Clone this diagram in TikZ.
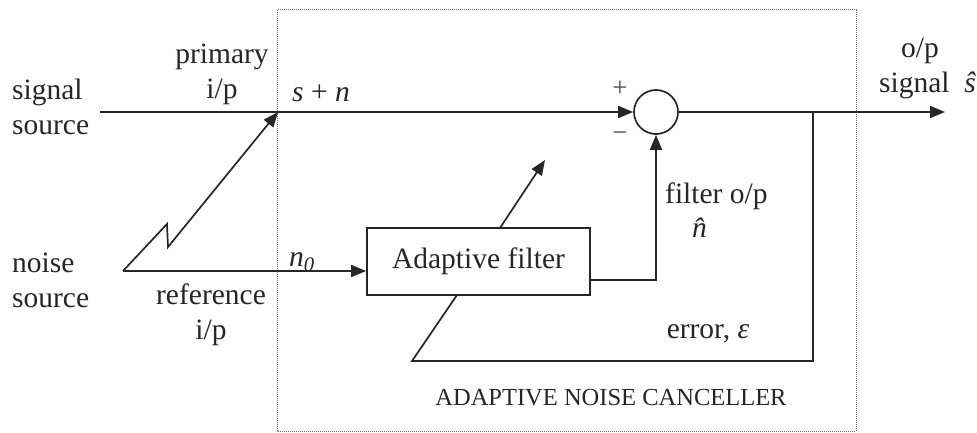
\documentclass[tikz,border=0pt]{standalone}
\usepackage{fontspec}
\setmainfont{Liberation Serif}
\usetikzlibrary{arrows.meta}
\begin{document}
\begin{tikzpicture}[x=1pt,y=-1pt,
  txt/.style={text=black!85, font=\fontsize{29.5}{35}\selectfont, inner sep=0pt},
  small/.style={text=black!85, font=\fontsize{24.5}{30}\selectfont, inner sep=0pt},
  sign/.style={text=black!70, font=\fontsize{27}{30}\selectfont, inner sep=0pt},
  ln/.style={draw=black!85, line width=1.7pt},
  arr/.style={ln, -{Triangle[length=15pt,width=12pt]}},
]
\useasboundingbox (0,0) rectangle (977,433);
% dotted enclosure
\draw[black!55, densely dotted, line width=1pt] (277,10) rectangle (856,431);
% blocks
\node[ln, txt, minimum width=223pt, minimum height=67pt] (af) at (478.5,261.5) {Adaptive filter};
\node[ln, circle, minimum size=44pt, inner sep=0pt] (sum) at (656,112) {};
% coordinates
\coordinate (sig) at (100,112);
\coordinate (noise) at (123,271);
\coordinate (z1) at (167,224);
\coordinate (z2) at (168,247);
\coordinate (pin) at (278,112);
\coordinate (fo) at (590,280);
\coordinate (out) at (945,112);
\coordinate (br) at (813,112);
\coordinate (brd) at (813,361);
\coordinate (el) at (412,361);
\coordinate (ab) at (457,295);
\coordinate (at) at (500,228);
\coordinate (tip) at (545,160);
% connectors
\draw[arr] (sig) -- (sum.west);
\draw[arr] (noise) -- (z1) -- (z2) -- (pin);
\draw[arr] (noise) -- (noise -| af.west);
\draw[arr] (fo) -- (fo -| sum.south) -- (sum.south);
\draw[arr] (sum.east) -- (out);
\draw[ln] (br) -- (brd) -- (el) -- (ab);
\draw[arr] (at) -- (tip);
% labels
\node[txt, anchor=west, align=left] (ls) at (12,107) {signal\\source};
\node[txt, align=center] (lp) at (222,74) {primary\\i/p};
\node[txt] (lsn) at (321,93) {\textit{s} + \textit{n}};
\node[txt, anchor=west, align=left] (ln0) at (12,280) {noise\\source};
\node[txt, align=center] (lr) at (211,315) {reference\\i/p};
\node[txt] (lnz) at (302,262) {\textit{n\textsubscript{0}}};
\node[sign] (lplus) at (620,89) {+};
\node[sign] (lminus) at (620,137) {\textminus};
\node[txt, anchor=west] (lfo) at (665,196) {filter o/p};
\node[txt] (lnh) at (705,228) {\textit{\^{n}}};
\node[txt] (lerr) at (708,334) {error, \textit{ε}};
\node[small] (lanc) at (611,398) {ADAPTIVE NOISE CANCELLER};
\node[txt] (lop) at (920,51) {o/p};
\node[txt, anchor=west] (lsig) at (879,85) {signal\ \ \textit{ŝ}};
\end{tikzpicture}
\end{document}
